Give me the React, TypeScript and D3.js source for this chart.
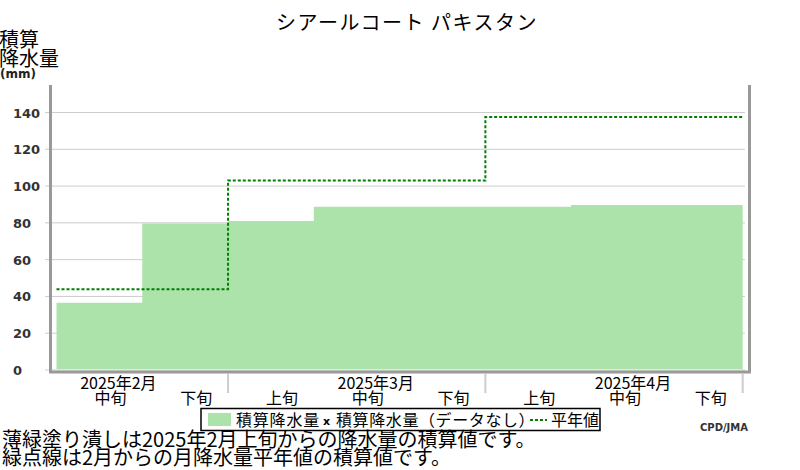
import React from "react";
import * as d3 from "d3";

const title = "シアールコート パキスタン";
const dekadLabels = ["中旬", "下旬", "上旬", "中旬", "下旬", "上旬", "中旬", "下旬"];
const monthLabels = ["2025年2月", "2025年3月", "2025年4月"];
const monthMidDekad = [0, 3, 6];
const cumPrecip = [36.6, 79.7, 81.0, 88.8, 88.8, 88.8, 89.7, 89.7];
const cumNormal = [43.9, 43.9, 103.0, 103.0, 103.0, 137.6, 137.6, 137.6];
const yTicks = [0, 20, 40, 60, 80, 100, 120, 140];
const monthBoundaries = [3, 6, 9];
const legendItems = ["積算降水量", "積算降水量（データなし）", "平年値"];
const notes = [
  "薄緑塗り潰しは2025年2月上旬からの降水量の積算値です。",
  "緑点線は2月からの月降水量平年値の積算値です。",
];

const FILL = "#abe3ab";
const LINE = "#008000";
const AXIS = "#999999";
const GRID = "#cccccc";
const CJK = "'Noto Sans CJK JP', sans-serif";

export default function App() {
  const W = 800;
  const H = 470;
  // dekad index: 1 = Feb 中旬 start, 9 = Apr 下旬 end
  const x = d3.scaleLinear().domain([1, 9]).range([56.5, 742.7]);
  const y = d3.scaleLinear().domain([0, 140]).range([370, 112.5]);

  const pts = cumPrecip.map((v, i) => ({ i: i + 1, v }));
  pts.push({ i: 9, v: cumPrecip[cumPrecip.length - 1] });
  const area = d3
    .area<{ i: number; v: number }>()
    .x((d) => x(d.i))
    .y0(y(0) - 1)
    .y1((d) => y(d.v))
    .curve(d3.curveStepAfter);

  const npts = cumNormal.map((v, i) => ({ i: i + 1, v }));
  npts.push({ i: 9, v: cumNormal[cumNormal.length - 1] });
  const line = d3
    .line<{ i: number; v: number }>()
    .x((d) => x(d.i))
    .y((d) => y(d.v))
    .curve(d3.curveStepAfter);

  return (
    <svg
      width={W}
      height={H}
      style={{ position: "absolute", left: 0, top: 0, background: "#fff" }}
    >
      {/* title */}
      <text x={407} y={30} textAnchor="middle" fontFamily={CJK} fontSize={20} letterSpacing={1.5} fill="#000">
        {title}
      </text>
      {/* y axis title */}
      <text x={-1} y={47} fontFamily={CJK} fontSize={20} fill="#000">積算</text>
      <text x={-1} y={66} fontFamily={CJK} fontSize={20} fill="#000">降水量</text>
      <text x={0} y={78} fontFamily="'DejaVu Sans', sans-serif" fontWeight="bold" fontSize={12} fill="#222">
        (mm)
      </text>

      {/* grid + ticks */}
      {yTicks.map((t) => (
        <g key={t}>
          <line x1={45} x2={745} y1={y(t)} y2={y(t)} stroke={GRID} strokeWidth={1} />
          <text
            x={13}
            y={y(t) + 5}
            fontFamily="'DejaVu Sans', sans-serif"
            fontWeight="bold"
            fontSize={13}
            fill="#333"
          >
            {t}
          </text>
        </g>
      ))}

      {/* fill */}
      <path d={area(pts) || ""} fill={FILL} stroke="none" />
      {/* normal line */}
      <path
        d={line(npts) || ""}
        fill="none"
        stroke={LINE}
        strokeWidth={2}
        strokeDasharray="3,2"
      />

      {/* frame */}
      <line x1={50.5} x2={50.5} y1={85} y2={373} stroke={AXIS} strokeWidth={3} />
      <line x1={749.5} x2={749.5} y1={85} y2={373} stroke={AXIS} strokeWidth={3} />
      <line x1={49} x2={751} y1={372} y2={372} stroke={AXIS} strokeWidth={3} />

      {/* month separators */}
      {monthBoundaries.map((b) => (
        <line key={b} x1={x(b)} x2={x(b)} y1={373} y2={393} stroke={GRID} strokeWidth={2} />
      ))}

      {/* x labels */}
      {dekadLabels.map((l, i) => (
        <text
          key={i}
          x={x(i + 1.5) + 11}
          y={404}
          textAnchor="middle"
          fontFamily={CJK}
          fontSize={16}
          fill="#000"
        >
          {l}
        </text>
      ))}
      {monthLabels.map((l, k) => (
        <text
          key={l}
          x={x(monthMidDekad[k] + 1.5) + 19}
          y={389}
          textAnchor="middle"
          fontFamily={CJK}
          fontSize={16}
          fill="#000"
        >
          {l}
        </text>
      ))}

      {/* legend */}
      <rect x={201} y={408.5} width={399} height={22} fill="#fff" stroke="#000" strokeWidth={1.5} />
      <rect x={208} y={413} width={23} height={13} fill={FILL} />
      <text x={236} y={426} fontFamily={CJK} fontSize={16} letterSpacing={0.8} fill="#000">
        {legendItems[0]}
      </text>
      <text x={323} y={425} fontFamily="'DejaVu Sans', sans-serif" fontWeight="bold" fontSize={11} fill="#000">
        x
      </text>
      <text x={336} y={426} fontFamily={CJK} fontSize={16} letterSpacing={0.6} fill="#000">
        {legendItems[1]}
      </text>
      <line x1={530} x2={547} y1={420} y2={420} stroke={LINE} strokeWidth={2} strokeDasharray="3,2" />
      <text x={551} y={426} fontFamily={CJK} fontSize={16} fill="#000">
        {legendItems[2]}
      </text>

      <text x={700} y={431} fontFamily="'DejaVu Sans', sans-serif" fontWeight="bold" fontSize={10} fill="#333">
        CPD/JMA
      </text>

      {/* notes */}
      <text x={2} y={447} fontFamily={CJK} fontSize={20} fill="#000">{notes[0]}</text>
      <text x={2} y={465} fontFamily={CJK} fontSize={20} fill="#000">{notes[1]}</text>
    </svg>
  );
}
